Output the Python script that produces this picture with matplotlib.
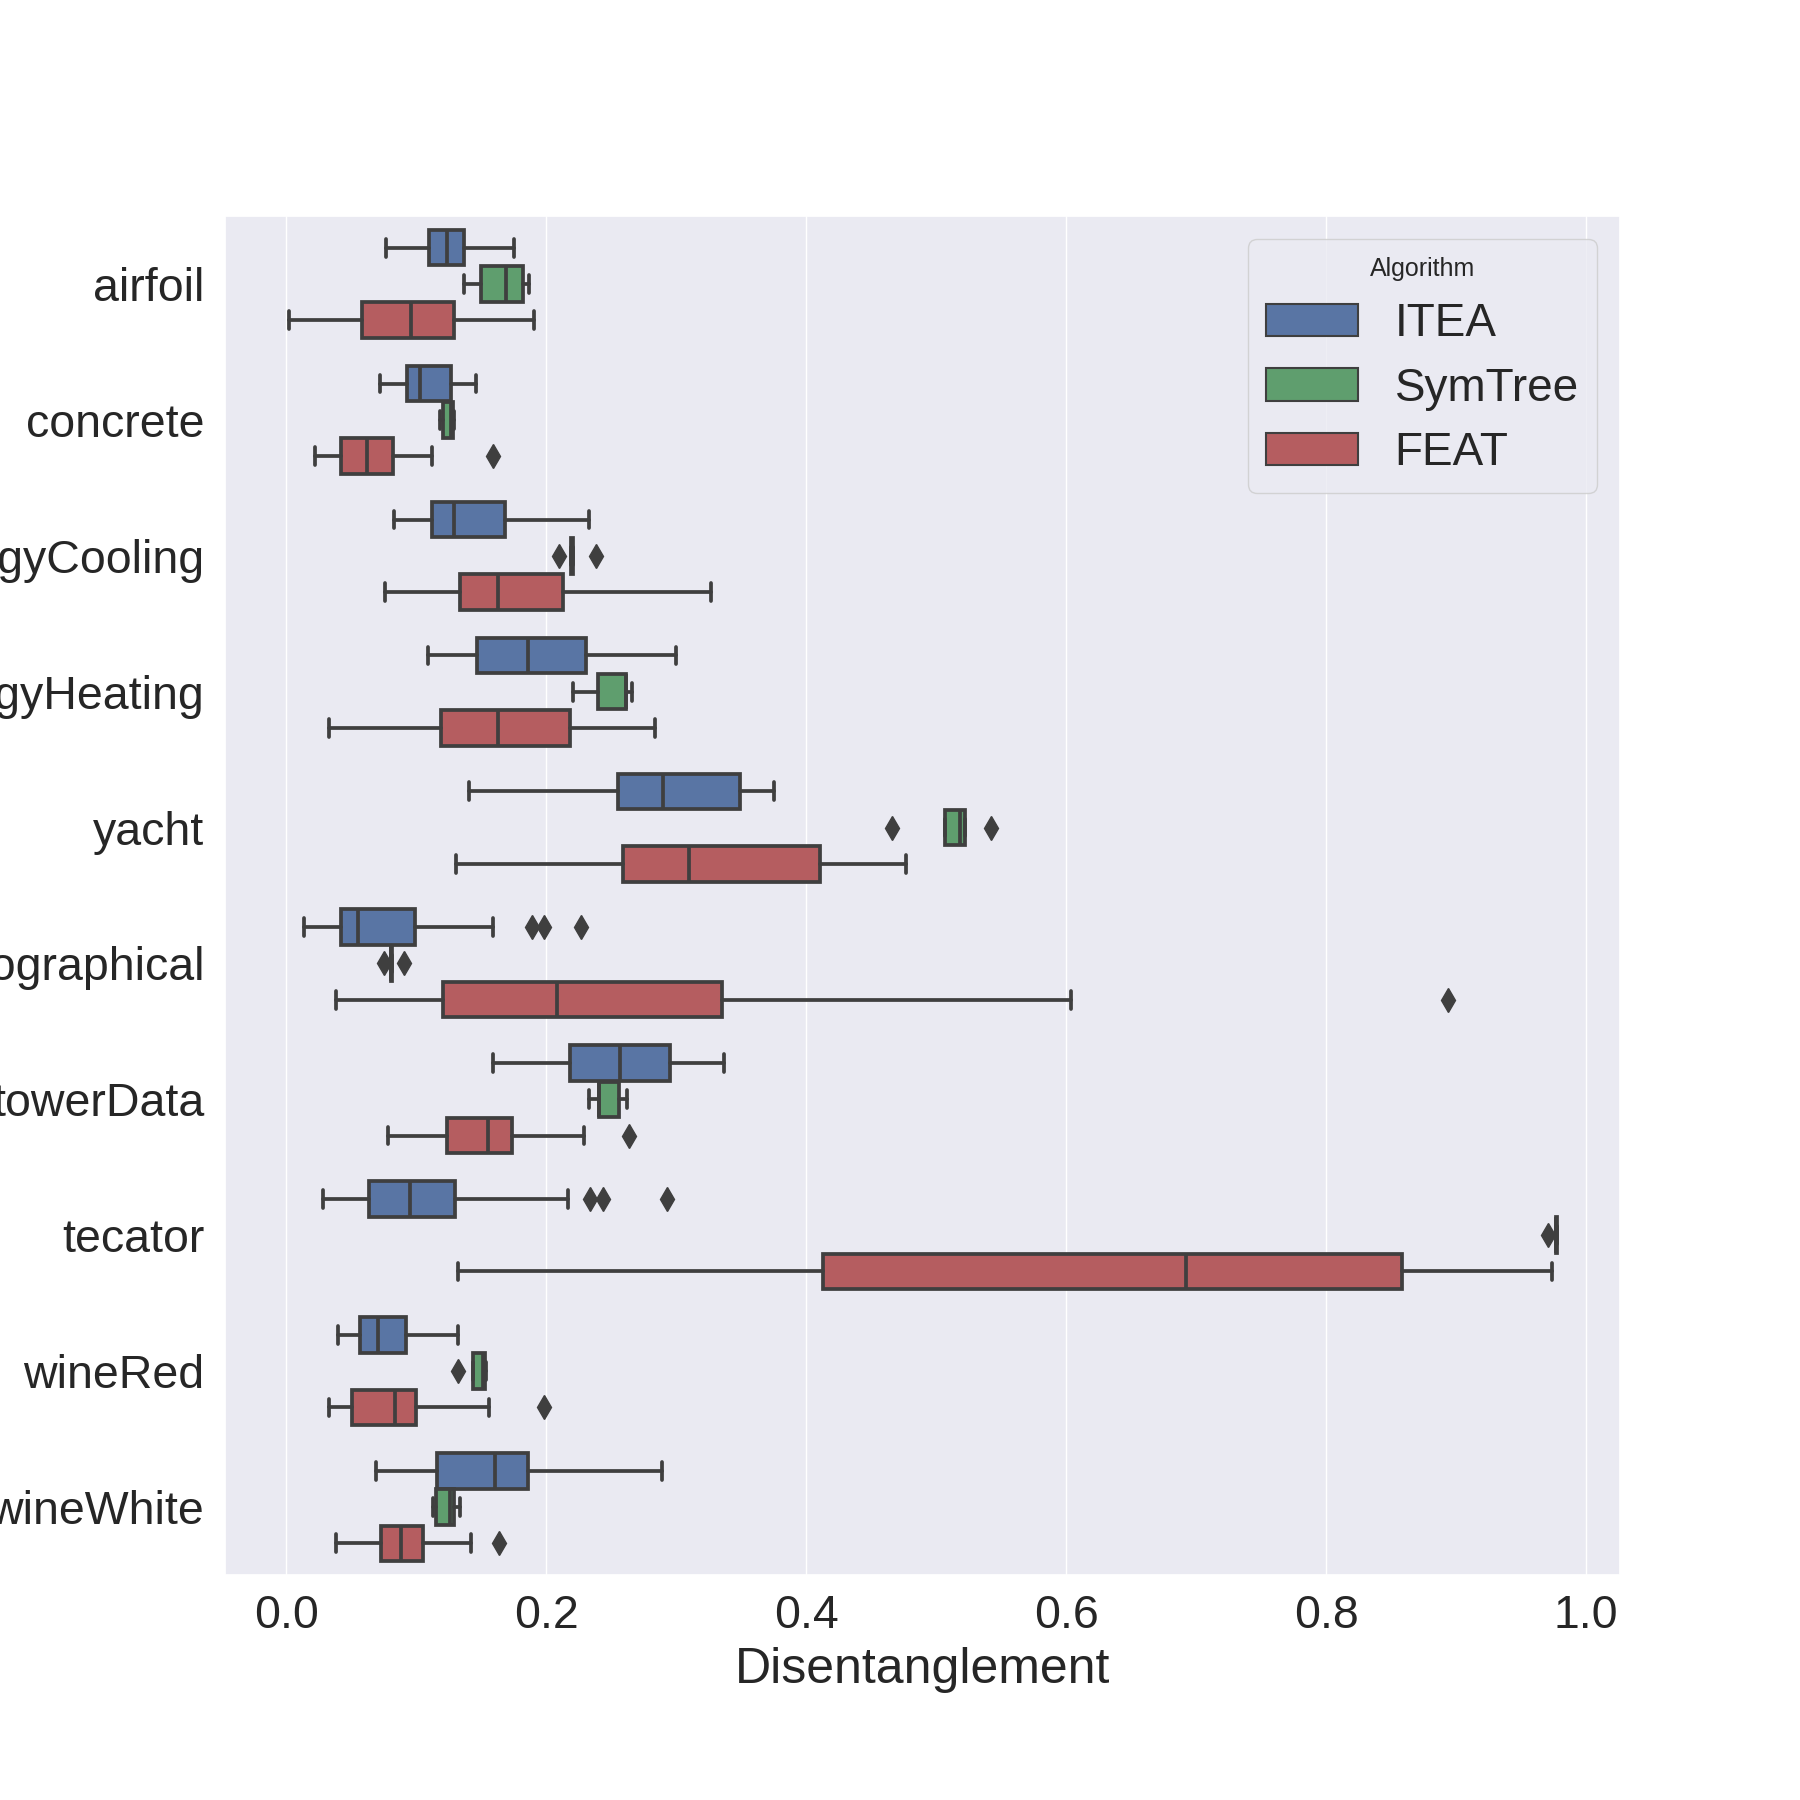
import numpy as np
import matplotlib.pyplot as plt
import seaborn as sns
from matplotlib.patches import Patch

sns.set_theme(style="darkgrid")
plt.rcParams['font.family'] = ['Liberation Sans', 'DejaVu Sans']

datasets = ["airfoil", "concrete", "energyCooling", "energyHeating", "yacht",
            "geographical", "towerData", "tecator", "wineRed", "wineWhite"]
algorithms = ["ITEA", "SymTree", "FEAT"]

# box stats per dataset: whisker low, q1, median, q3, whisker high, outliers
itea_lo = [0.077, 0.072, 0.083, 0.109, 0.141, 0.014, 0.159, 0.028, 0.040, 0.069]
itea_q1 = [0.110, 0.093, 0.112, 0.147, 0.255, 0.042, 0.218, 0.064, 0.057, 0.116]
itea_med = [0.124, 0.103, 0.129, 0.186, 0.290, 0.055, 0.257, 0.095, 0.071, 0.161]
itea_q3 = [0.137, 0.127, 0.168, 0.231, 0.349, 0.099, 0.295, 0.130, 0.092, 0.186]
itea_hi = [0.175, 0.146, 0.233, 0.300, 0.375, 0.159, 0.337, 0.217, 0.132, 0.289]
itea_out = [[], [], [], [], [], [0.189, 0.198, 0.227], [], [0.234, 0.244, 0.293], [], []]

sym_lo = [0.137, 0.118, 0.2193, 0.221, 0.507, 0.0803, 0.2327, 0.9765, 0.1436, 0.1129]
sym_q1 = [0.150, 0.1205, 0.2193, 0.240, 0.507, 0.0803, 0.2403, 0.9765, 0.1436, 0.1152]
sym_med = [0.169, 0.1265, 0.2198, 0.2612, 0.518, 0.0808, 0.2405, 0.977, 0.1518, 0.1257]
sym_q3 = [0.182, 0.1285, 0.2203, 0.2614, 0.522, 0.0813, 0.2557, 0.9775, 0.1531, 0.1295]
sym_hi = [0.187, 0.1295, 0.2203, 0.266, 0.522, 0.0813, 0.2621, 0.9775, 0.1535, 0.1334]
sym_out = [[], [], [0.210, 0.238], [], [0.466, 0.542], [0.0754, 0.091], [], [0.971], [0.132], []]

feat_lo = [0.002, 0.022, 0.076, 0.033, 0.131, 0.038, 0.078, 0.132, 0.033, 0.038]
feat_q1 = [0.058, 0.042, 0.134, 0.119, 0.259, 0.121, 0.124, 0.413, 0.051, 0.073]
feat_med = [0.096, 0.062, 0.163, 0.163, 0.310, 0.208, 0.155, 0.692, 0.084, 0.088]
feat_q3 = [0.129, 0.082, 0.213, 0.218, 0.411, 0.335, 0.174, 0.858, 0.100, 0.105]
feat_hi = [0.191, 0.112, 0.327, 0.284, 0.477, 0.604, 0.229, 0.974, 0.156, 0.142]
feat_out = [[], [0.159], [], [], [], [0.894], [0.264], [], [0.198], [0.164]]

series = [
    (itea_lo, itea_q1, itea_med, itea_q3, itea_hi, itea_out),
    (sym_lo, sym_q1, sym_med, sym_q3, sym_hi, sym_out),
    (feat_lo, feat_q1, feat_med, feat_q3, feat_hi, feat_out),
]

deep = ["#4C72B0", "#55A868", "#C44E52"]
colors = [sns.desaturate(c, 0.75) for c in deep]
gray = "#3f3f3f"
lw = 2.7

fig, ax = plt.subplots(figsize=(18, 18), dpi=100)
fig.subplots_adjust(left=0.125, right=0.9, top=0.88, bottom=0.125)

n = len(algorithms)
each = 0.8 / n
offsets = (np.arange(n) - (n - 1) / 2) * each
pos = np.arange(len(datasets))

for k, (lo, q1, med, q3, hi, out) in enumerate(series):
    stats = []
    for i in range(len(datasets)):
        stats.append(dict(whislo=lo[i], q1=q1[i], med=med[i], q3=q3[i],
                          whishi=hi[i], fliers=out[i]))
    ax.bxp(stats, positions=pos + offsets[k], widths=each * 0.98, vert=False,
           patch_artist=True, manage_ticks=False,
           boxprops=dict(facecolor=colors[k], edgecolor=gray, linewidth=lw),
           medianprops=dict(color=gray, linewidth=lw),
           whiskerprops=dict(color=gray, linewidth=lw),
           capprops=dict(color=gray, linewidth=lw),
           flierprops=dict(marker="d", markerfacecolor=gray, markeredgecolor=gray,
                           markersize=12, linestyle="none"))

ax.set_yticks(pos)
ax.set_yticklabels(datasets)
ax.set_ylim(len(datasets) - 0.5, -0.5)
ax.set_xlim(-0.047, 1.026)
ax.set_xticks([0.0, 0.2, 0.4, 0.6, 0.8, 1.0])
ax.yaxis.grid(False)
ax.tick_params(axis="y", labelsize=33.5, pad=15, length=0)
ax.tick_params(axis="x", labelsize=33.5, pad=14, length=0)
ax.set_xlabel("Disentanglement", fontsize=36, labelpad=6)

handles = [Patch(facecolor=colors[k], edgecolor=gray, linewidth=1.5, label=algorithms[k])
           for k in range(n)]
leg = ax.legend(handles=handles, title="Algorithm", loc="upper right", fontsize=33,
                title_fontsize=18, labelspacing=0.45)

plt.savefig("out.png")
